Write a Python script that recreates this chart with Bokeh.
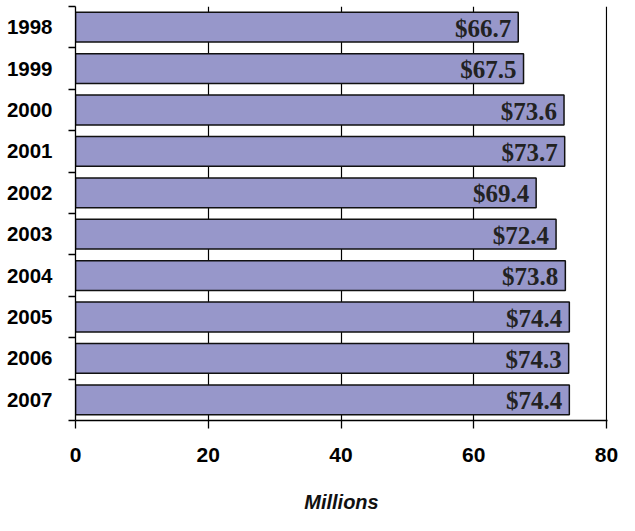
from bokeh.plotting import figure
from bokeh.models import Range1d, FixedTicker, ColumnDataSource
from bokeh.core.properties import value
from bokeh.embed import file_html
from bokeh.resources import INLINE

years = ["1998", "1999", "2000", "2001", "2002", "2003", "2004", "2005", "2006", "2007"]
amounts = [66.7, 67.5, 73.6, 73.7, 69.4, 72.4, 73.8, 74.4, 74.3, 74.4]
x_ticks = [0, 20, 40, 60, 80]
x_title = "Millions"

pos = [i + 0.5 for i in range(len(years))]
labels = ["$%.1f" % v for v in amounts]
src = ColumnDataSource(dict(y=pos, right=amounts, label=labels))

p = figure(width=619, height=515, output_backend="svg", toolbar_location=None,
           x_range=Range1d(0, 80.15), y_range=Range1d(len(years), 0),
           min_border_left=75, min_border_right=12, min_border_top=6, min_border_bottom=93)
p.outline_line_color = None
p.background_fill_color = "white"
p.border_fill_color = "white"

p.hbar(y="y", left=0, right="right", height=0.72, source=src,
       fill_color="#9797CA", line_color="#111111", line_width=1.5)
p.text(x="right", y="y", text="label", source=src, text_align="right", text_baseline="middle",
       x_offset=-7, y_offset=1, text_font=value("Liberation Serif"), text_font_style="bold",
       text_font_size="25px", text_color="#222222")

# grid
p.ygrid.grid_line_color = None
p.xgrid.ticker = FixedTicker(ticks=x_ticks)
p.xgrid.grid_line_color = "#000000"
p.xgrid.grid_line_width = 1.2
p.xgrid.grid_line_alpha = 1.0

# x axis
xa = p.xaxis[0]
xa.ticker = FixedTicker(ticks=x_ticks)
xa.axis_line_color = "#000000"
xa.axis_line_width = 1.3
xa.major_tick_in = 0
xa.major_tick_out = 8
xa.major_tick_line_width = 1.3
xa.minor_tick_line_color = None
xa.major_label_standoff = 19
xa.major_label_text_font = "Liberation Sans"
xa.major_label_text_font_style = "bold"
xa.major_label_text_font_size = "21px"
xa.major_label_text_color = "#000000"
xa.axis_label = x_title
xa.axis_label_standoff = 26
xa.axis_label_text_font = "Liberation Sans"
xa.axis_label_text_font_style = "bold italic"
xa.axis_label_text_font_size = "20px"
xa.axis_label_text_color = "#111111"

# y axis
ya = p.yaxis[0]
ya.ticker = FixedTicker(ticks=pos, minor_ticks=list(range(len(years) + 1)))
ya.major_label_overrides = {pv: y for pv, y in zip(pos, years)}
ya.axis_line_color = "#000000"
ya.axis_line_width = 1.3
ya.major_tick_in = 0
ya.major_tick_out = 0
ya.minor_tick_in = 0
ya.minor_tick_out = 7
ya.minor_tick_line_color = "#000000"
ya.minor_tick_line_width = 1.3
ya.major_label_standoff = 16
ya.major_label_text_font = "Liberation Sans"
ya.major_label_text_font_style = "bold"
ya.major_label_text_font_size = "20.5px"
ya.major_label_text_color = "#000000"

open("out.html", "w").write(file_html(p, INLINE))
